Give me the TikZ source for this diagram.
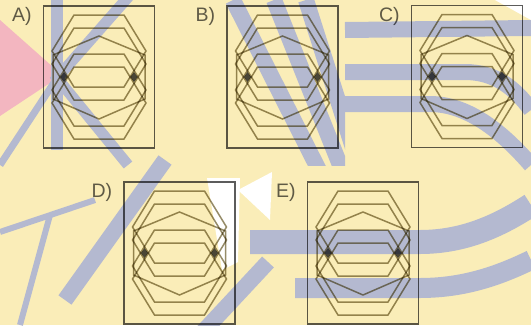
\documentclass[tikz,border=0pt]{standalone}
\usepackage{fontspec}
\setmainfont{Liberation Sans}

\definecolor{wmyellow}{RGB}{250,237,184}
\definecolor{wmblue}{RGB}{180,185,208}
\definecolor{wmpink}{RGB}{243,182,192}
\definecolor{inkline}{RGB}{150,140,105}
\definecolor{inkframe}{RGB}{92,92,92}

\begin{document}
\begin{tikzpicture}[
  x=1pt, y=-1pt,
  font=\fontsize{19.5}{21}\selectfont,
  frame/.style={draw=inkframe, line width=1.3pt, minimum width=111pt, minimum height=142pt, inner sep=0pt},
  hexline/.style={draw=inkline, line width=1.5pt},
  gem/.style={fill=black!70},
  band/.style={draw=wmblue, line width=16pt},
  tag/.style={text=black!62, inner sep=0pt, anchor=north east},
  puzzle/.pic={
    \foreach \hy in {-26,-13,13,26}
      \draw[hexline] (-25,\hy-36) -- (25,\hy-36) -- (47,\hy) -- (25,\hy+36)
        -- (-25,\hy+36) -- (-47,\hy) -- cycle;
    \draw[hexline] (0,-41) -- (46,-22) -- (46,22) -- (0,42) -- (-46,22) -- (-46,-22) -- cycle;
    \foreach \sx in {-35,35}
      \fill[gem] (\sx,-5) -- (\sx+3.5,0) -- (\sx,5) -- (\sx-3.5,0) -- cycle;
  }
]
\useasboundingbox (0,0) rectangle (531,325);
\clip (0,0) rectangle (531,325);

% watermark behind the puzzle
\fill[wmyellow] (0,0) rectangle (531,325);
\fill[wmpink] (0,20) -- (62,75) -- (0,116) -- cycle;
\draw[band, line width=12pt] (57,0) -- (57,150);
\draw[band, line width=11pt] (130,-5) -- (57,78) -- (128,165);
\draw[band, line width=7pt] (0,165) -- (57,78);
\draw[band, line width=6pt] (0,232) -- (95,200);
\draw[band, line width=6pt] (50,215) -- (20,325);
\draw[band] (165,160) -- (65,300);
\draw[band] (268,262) -- (200,335);
\begin{scope}
  \clip (200,0) rectangle (345,165);
  \foreach \tx in {233,274,306}
    \draw[band] (430,390) -- (\tx,0);
\end{scope}
\draw[band] (345,30) -- (531,28);
\draw[band] (345,72) -- (465,72) .. controls (495,72) and (515,88) .. (531,110);
\draw[band] (345,104) -- (430,104) .. controls (470,104) and (505,135) .. (531,165);
\draw[band, line width=24pt] (250,242) -- (420,242) .. controls (465,242) and (500,225) .. (531,205);
\draw[band, line width=20pt] (295,288) -- (420,288) .. controls (465,288) and (500,275) .. (531,260);
\fill[white] (207,178) -- (240,178) -- (238,262) -- (222,270) -- cycle;
\fill[white] (238,190) -- (272,172) -- (270,220) -- cycle;
\fill[white] (495,0) -- (531,0) -- (531,20) -- cycle;

% the five answer figures
\begin{scope}[blend mode=multiply]
\foreach \name/\px/\py in {A/99/77, B/282.5/77, C/467/76.5, D/179.5/253, E/363/253} {
  \node[frame] (box\name) at (\px,\py) {};
  \pic at (box\name.center) {puzzle};
  \node[tag] (lab\name) at ([xshift=-11pt, yshift=-2pt]box\name.north west) {\name)};
}
\end{scope}
\end{tikzpicture}
\end{document}
